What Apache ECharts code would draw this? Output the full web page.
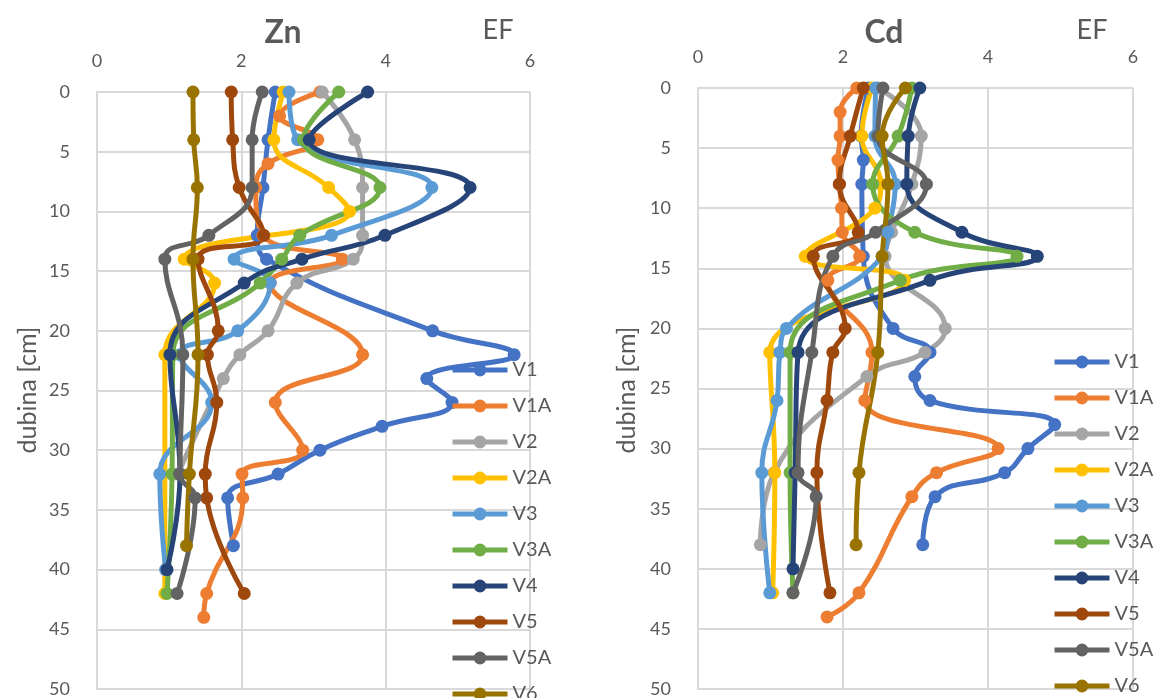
<!DOCTYPE html>
<html>
<head>
<meta charset="utf-8">
<script src="https://cdn.jsdelivr.net/npm/echarts@6/dist/echarts.min.js"></script>
<style>
html,body{margin:0;padding:0;background:#fff;}
#chart{width:1153px;height:698px;}
</style>
</head>
<body>
<div id="chart"></div>
<script>
// Series names and colours
const seriesNames = ['V1','V1A','V2','V2A','V3','V3A','V4','V5','V5A','V6'];
const seriesColors = ['#4472C4','#ED7D31','#A5A5A5','#FFC000','#5B9BD5','#70AD47','#264478','#9E480E','#636363','#997300'];
const xTicks = [0, 2, 4, 6];     // EF
const yTicks = [0, 50, 5];       // depth min, max, step

// Zn panel: [depth cm, EF]
const znV1  = [[0,2.47],[4,2.37],[8,2.30],[12,2.22],[14,2.35],[20,4.65],[22,5.78],[24,4.57],[26,4.92],[28,3.95],[30,3.09],[32,2.51],[34,1.81],[38,1.89]];
const znV1A = [[0,3.09],[2,2.53],[4,3.06],[6,2.37],[8,2.20],[12,2.30],[14,3.40],[16,2.40],[22,3.68],[26,2.47],[30,2.85],[32,2.01],[34,2.02],[42,1.52],[44,1.48]];
const znV2  = [[0,3.12],[4,3.57],[8,3.68],[12,3.68],[14,3.55],[16,2.77],[20,2.37],[22,1.98],[24,1.75],[32,1.12]];
const znV2A = [[0,2.58],[4,2.45],[8,3.21],[10,3.50],[14,1.21],[16,1.63],[22,0.94],[42,0.94]];
const znV3  = [[0,2.66],[4,2.78],[8,4.64],[12,3.25],[14,1.90],[16,2.40],[20,1.95],[22,1.15],[26,1.59],[32,0.87],[40,0.95]];
const znV3A = [[0,3.35],[4,2.86],[8,3.92],[12,2.81],[14,2.56],[16,2.26],[22,1.05],[32,1.04],[42,0.97]];
const znV4  = [[0,3.75],[4,2.94],[8,5.17],[12,3.99],[14,2.84],[16,2.04],[22,1.01],[32,1.15],[40,0.97]];
const znV5  = [[0,1.86],[4,1.88],[8,1.97],[12,2.31],[14,1.40],[20,1.68],[22,1.53],[26,1.66],[32,1.50],[34,1.52],[42,2.04]];
const znV5A = [[0,2.29],[4,2.15],[8,2.15],[12,1.55],[14,0.94],[22,1.19],[32,1.15],[34,1.36],[42,1.11]];
const znV6  = [[0,1.33],[4,1.34],[8,1.39],[14,1.33],[22,1.40],[32,1.28],[38,1.24]];

// Cd panel: [depth cm, EF]
const cdV1  = [[0,2.35],[4,2.25],[6,2.28],[8,2.26],[14,2.28],[20,2.69],[22,3.20],[24,2.99],[26,3.20],[28,4.92],[30,4.55],[32,4.23],[34,3.27],[38,3.10]];
const cdV1A = [[0,2.19],[2,1.96],[4,1.96],[6,1.93],[8,1.95],[10,1.98],[12,1.99],[14,2.23],[16,1.79],[22,2.40],[26,2.30],[30,4.14],[32,3.29],[34,2.95],[42,2.22],[44,1.78]];
const cdV2  = [[0,2.48],[4,3.08],[8,2.95],[12,2.67],[14,2.58],[20,3.41],[22,3.13],[24,2.33],[32,1.05],[38,0.86]];
const cdV2A = [[0,2.40],[4,2.26],[8,2.52],[10,2.44],[14,1.48],[16,2.85],[22,0.99],[32,1.06],[42,1.03]];
const cdV3  = [[0,2.45],[4,2.44],[8,2.72],[12,2.62],[14,2.54],[20,1.22],[22,1.13],[26,1.09],[32,0.88],[42,0.99]];
const cdV3A = [[0,2.95],[4,2.76],[8,2.41],[12,2.99],[14,4.40],[16,2.79],[22,1.27],[32,1.27],[42,1.31]];
const cdV4  = [[0,3.06],[4,2.90],[8,2.88],[12,3.64],[14,4.68],[16,3.20],[22,1.38],[32,1.34],[40,1.31]];
const cdV5  = [[0,2.28],[4,2.10],[8,1.95],[12,2.21],[14,1.59],[20,2.03],[22,1.86],[26,1.78],[32,1.64],[42,1.82]];
const cdV5A = [[0,2.55],[4,2.48],[8,3.15],[12,2.45],[14,1.86],[22,1.57],[32,1.38],[34,1.63],[42,1.31]];
const cdV6  = [[0,2.86],[4,2.54],[8,2.62],[14,2.54],[22,2.48],[32,2.22],[38,2.18]];

const znData = [znV1, znV1A, znV2, znV2A, znV3, znV3A, znV4, znV5, znV5A, znV6];
const cdData = [cdV1, cdV1A, cdV2, cdV2A, cdV3, cdV3A, cdV4, cdV5, cdV5A, cdV6];

const TXT = '#595959';
const GRID = '#D9D9D9';
const FONT = 'Lato, "Open Sans", sans-serif';

function xAx(gi){
  return {
    gridIndex: gi, type: 'value', position: 'top',
    min: xTicks[0], max: xTicks[xTicks.length-1], interval: xTicks[1]-xTicks[0],
    axisLine: {show: false}, axisTick: {show: false},
    axisLabel: {color: TXT, fontSize: 18, fontFamily: FONT, margin: 22},
    splitLine: {show: true, lineStyle: {color: GRID, width: 2}}
  };
}
function yAx(gi){
  return {
    gridIndex: gi, type: 'value', inverse: true,
    min: yTicks[0], max: yTicks[1], interval: yTicks[2],
    axisLine: {show: true, lineStyle: {color: GRID, width: 2}}, axisTick: {show: false},
    axisLabel: {color: TXT, fontSize: 18, fontFamily: FONT, margin: 27},
    splitLine: {show: true, lineStyle: {color: GRID, width: 2}}
  };
}

const series = [];
[znData, cdData].forEach((panel, gi) => {
  panel.forEach((arr, i) => {
    series.push({
      name: seriesNames[i], type: 'line',
      xAxisIndex: gi, yAxisIndex: gi,
      data: arr.map(p => [p[1], p[0]]),
      smooth: 0.45,
      symbol: 'circle', symbolSize: 13,
      lineStyle: {width: 5, color: seriesColors[i]},
      itemStyle: {color: seriesColors[i]},
      clip: false
    });
  });
});

function legend(left, top){
  return {
    orient: 'vertical', left: left, top: top, height: 420, padding: 0,
    data: seriesNames, itemWidth: 55, itemHeight: 16, itemGap: 14,
    lineStyle: {width: 5},
    textStyle: {color: TXT, fontSize: 20, fontFamily: FONT, lineHeight: 22},
    selectedMode: false
  };
}

const option = {
  animation: false,
  backgroundColor: '#fff',
  color: seriesColors,
  grid: [
    {left: 97, top: 92, width: 433, height: 598},
    {left: 698, top: 88, width: 435, height: 602}
  ],
  xAxis: [xAx(0), xAx(1)],
  yAxis: [yAx(0), yAx(1)],
  legend: [legend(450, 359), legend(1052, 351)],
  graphic: [
    {type: 'text', x: 283, y: 33, style: {text: 'Zn', fill: TXT, font: 'bold 32px ' + FONT, align: 'center', verticalAlign: 'middle'}},
    {type: 'text', x: 884, y: 33, style: {text: 'Cd', fill: TXT, font: 'bold 32px ' + FONT, align: 'center', verticalAlign: 'middle'}},
    {type: 'text', x: 498, y: 30, style: {text: 'EF', fill: TXT, font: '27px ' + FONT, align: 'center', verticalAlign: 'middle'}},
    {type: 'text', x: 1092, y: 30, style: {text: 'EF', fill: TXT, font: '27px ' + FONT, align: 'center', verticalAlign: 'middle'}},
    {type: 'text', x: 28, y: 390, rotation: Math.PI/2, style: {text: 'dubina [cm]', fill: TXT, font: '25px ' + FONT, align: 'center', verticalAlign: 'middle'}},
    {type: 'text', x: 627, y: 390, rotation: Math.PI/2, style: {text: 'dubina [cm]', fill: TXT, font: '25px ' + FONT, align: 'center', verticalAlign: 'middle'}}
  ],
  series: series
};

const chart = echarts.init(document.getElementById('chart'), null, {renderer: 'canvas'});
chart.setOption(option);
</script>
</body>
</html>
